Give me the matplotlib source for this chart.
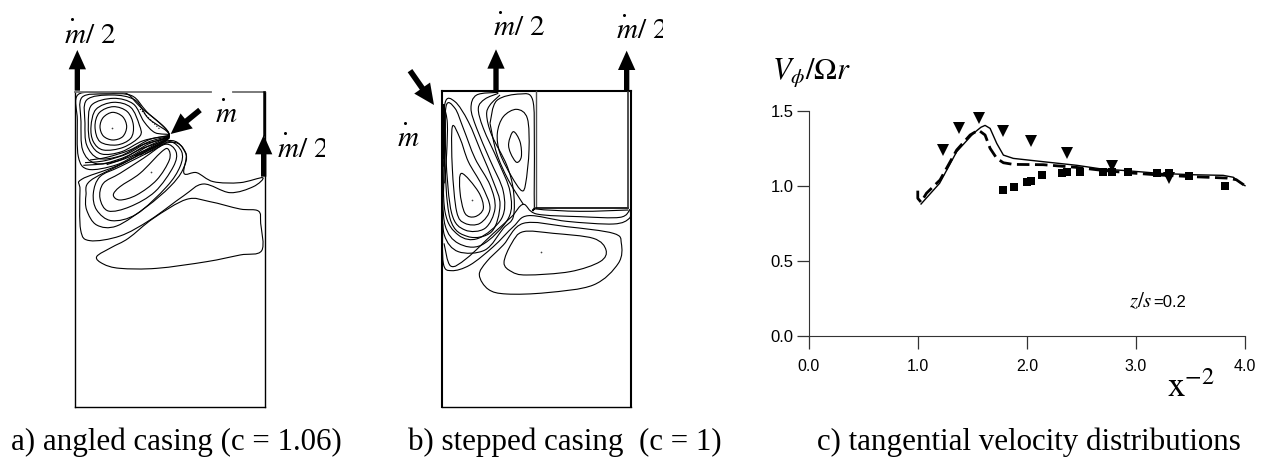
import matplotlib
matplotlib.use("Agg")
import numpy as np
import matplotlib.pyplot as plt
from matplotlib.path import Path
from matplotlib.patches import PathPatch

W, H = 1264, 459

plt.rcParams['font.family'] = ['Liberation Sans', 'DejaVu Sans']
plt.rcParams['mathtext.fontset'] = 'stix'

# panel c values
x_triangles = [1.23, 1.38, 1.56, 1.78, 2.04, 2.37, 2.78, 3.30]
y_triangles = [1.235, 1.385, 1.453, 1.367, 1.298, 1.22, 1.13, 1.05]
x_squares = [1.78, 1.88, 2.0, 2.04, 2.14, 2.32, 2.37, 2.49, 2.70, 2.78, 2.93, 3.19, 3.30, 3.49, 3.82]
y_squares = [0.97, 0.993, 1.027, 1.029, 1.069, 1.082, 1.089, 1.091, 1.089, 1.091, 1.091, 1.082, 1.082, 1.062, 1.0]
x_solid = [1.03, 1.20, 1.357, 1.51, 1.58, 1.617, 1.663, 1.724, 1.785, 1.876, 2.15, 2.457, 2.67, 2.915, 3.22, 3.527, 3.80, 3.894, 3.955, 4.0]
y_solid = [0.878, 1.016, 1.227, 1.349, 1.39, 1.402, 1.382, 1.282, 1.204, 1.182, 1.16, 1.136, 1.113, 1.10, 1.082, 1.073, 1.069, 1.056, 1.02, 1.0]
x_dash = [1.0, 1.0, 1.03, 1.08, 1.204, 1.357, 1.48, 1.556, 1.617, 1.663, 1.724, 1.785, 1.876, 2.15, 2.457, 2.67, 2.915, 3.22, 3.527, 3.83, 3.92, 4.0]
y_dash = [0.967, 0.916, 0.89, 0.95, 1.038, 1.238, 1.338, 1.371, 1.338, 1.249, 1.182, 1.153, 1.142, 1.14, 1.122, 1.104, 1.087, 1.071, 1.06, 1.051, 1.04, 1.0]
x_ticks = [0.0, 1.0, 2.0, 3.0, 4.0]
y_ticks = [0.0, 0.5, 1.0, 1.5]

# panel a streamlines
a_closed = [
    [(180,350),(190,322),(218,307),(248,320),(260,350),(248,380),(218,390),(190,378)],
    [(165,350),(178,308),(220,290),(262,305),(280,345),(272,385),(230,405),(180,395)],
    [(153,350),(168,298),(220,277),(272,292),(298,345),(300,378),(250,412),(190,420),(160,395)],
    [(145,345),(155,285),(220,265),(280,282),(312,335),(345,368),(388,375),(310,392),(245,425),(185,432),(152,400)],
    [(135,340),(140,270),(215,255),(285,270),(325,325),(388,376),(305,405),(240,438),(175,445),(140,405)],
    [(123,335),(126,262),(200,252),(275,257),(320,305),(388,377),(300,418),(235,452),(165,460),(128,420)],
    [(112,330),(114,254),(200,249),(258,250),(300,290),(388,378),(295,430),(228,465),(145,478),(115,440)],
    [(220,555),(240,530),(300,490),(365,425),(385,418),(388,450),(350,510),(290,555),(240,570)],
    [(180,565),(190,520),(240,490),(310,445),(375,403),(408,425),(400,470),(345,545),(270,590),(205,603)],
    [(160,550),(180,500),(240,470),(340,420),(390,395),(425,425),(420,470),(380,530),(290,612),(215,632),(170,600)],
    [(138,555),(150,513),(250,460),(385,392),(437,430),(428,480),(390,530),(320,590),(230,648),(170,645),(140,600)],
    [(120,540),(125,508),(230,468),(385,398),(437,428),(432,490),(470,488),(520,515),(600,518),(668,503),(640,530),
     (570,548),(490,522),(430,558),(330,630),(240,678),(150,692),(122,660)],
    [(170,740),(215,712),(265,685),(340,625),(440,568),(510,575),(600,597),(655,603),(662,640),(665,722),(600,735),
     (500,755),(350,775),(240,775),(190,762)],
]
a_fan = [
    [(388,378),(330,388),(270,420),(200,442),(150,450)],
    [(388,379),(325,396),(265,430),(195,452),(135,458)],
    [(388,380),(325,402),(262,438),(195,460),(130,466)],
    [(388,381),(325,408),(270,440),(200,464)],
    [(388,382),(330,412),(285,438)],
    [(388,383),(335,415),(300,436)],
    [(388,384),(340,417),(315,432)],
]
a_dotted_x = [300, 320, 342, 362]
a_dotted_y = [297, 318, 340, 360]
a_eyes_x = [215, 332]
a_eyes_y = [353, 485]

# panel b streamlines
b_closed = [
    [(245,490),(295,545),(310,595),(285,620),(255,610),(240,545)],
    [(217,350),(240,385),(265,455),(305,525),(330,595),(300,640),(255,640),(230,605),(217,475)],
    [(198,290),(225,295),(250,355),(285,445),(330,525),(345,595),(315,655),(255,660),(215,610),(198,445)],
    [(195,280),(225,275),(265,335),(305,430),(340,515),(360,585),(335,665),(265,680),(210,625),(193,425)],
    [(386,400),(400,365),(420,395),(424,440),(410,457),(392,430)],
    [(352,370),(370,320),(410,298),(442,325),(447,420),(437,520),(425,542),(395,500),(360,430)],
    [(372,758),(395,700),(430,665),(520,670),(640,685),(678,720),(660,755),(570,785),(440,795),(395,785)],
    [(298,795),(320,755),(370,705),(430,640),(560,650),(700,670),(724,700),(715,760),(640,825),(500,848),(380,852),(325,838)],
]
b_open = [
    [(355,247),(290,255),(273,295),(290,355),(330,450),(370,545),(365,625),(295,685),(235,675),(195,605),(189,425)],
    [(355,250),(315,267),(295,295),(310,355),(355,455),(390,545),(385,625),(305,705),(235,700),(195,645),(187,525)],
    [(360,255),(330,285),(320,315),(335,375),(380,465),(400,540),(400,620),(370,655),(315,720),(235,725),(193,675),(187,575)],
    [(330,340),(350,272),(420,252),(458,270),(463,400),(463,585),(469,597),(600,604),(745,600)],
    [(330,340),(350,430),(385,510),(430,583)],
    [(188,640),(190,760),(215,782),(270,765),(340,710),(400,650),(445,617),(560,634),(700,642),(748,625),(750,598)],
    [(750,598),(720,622),(600,620),(470,612),(430,583),(395,620),(340,670),(260,745),(212,768),(192,700)],
]
b_wall = [
    [(190,285),(196,340),(194,440),(190,560)],
    [(193,290),(202,340),(200,430),(194,520)],
    [(188,290),(192,360),(191,470)],
]
b_eyes_x = [275, 484]
b_eyes_y = [570, 726]

# lettering
caption_a = "a) angled casing (c = 1.06)"
caption_b = "b) stepped casing  (c = 1)"
caption_c = "c) tangential velocity distributions"
half_flow = r"$m/\ \mathit{2}$"
full_flow = r"$m$"


def curve(points, closed=False):
    # catmull-rom through the traced points, drawn as cubic path pieces
    pts = [np.array(p, dtype=float) for p in points]
    n = len(pts)
    verts = [pts[0]]
    codes = [Path.MOVETO]
    for i in range(n if closed else n - 1):
        if closed:
            p0, p1, p2, p3 = pts[i - 1], pts[i], pts[(i + 1) % n], pts[(i + 2) % n]
        else:
            p0, p1, p2, p3 = pts[max(i - 1, 0)], pts[i], pts[i + 1], pts[min(i + 2, n - 1)]
        verts += [p1 + (p2 - p0) / 6, p2 - (p3 - p1) / 6, p2]
        codes += [Path.CURVE4] * 3
    return Path(verts, codes)


def add_axes_px(x, y, w, h):
    return fig.add_axes([x / W, 1 - (y + h) / H, w / W, h / H])


def up_arrow(ax, x, y0, y1):
    ax.arrow(x, y0, 0, y1 - y0, width=16, head_width=52, head_length=58,
             length_includes_head=True, color="black", lw=0, zorder=4)


def slant_arrow(ax, x0, y0, x1, y1):
    ax.arrow(x0, y0, x1 - x0, y1 - y0, width=17, head_width=58, head_length=62,
             length_includes_head=True, color="black", lw=0, zorder=4)


def draw_lines(ax, closed, opened):
    for pts in closed:
        ax.add_patch(PathPatch(curve(pts, True), fc="none", ec="black", lw=0.8))
    for pts in opened:
        ax.add_patch(PathPatch(curve(pts), fc="none", ec="black", lw=0.8))


def sketch_axes(ax, x_right):
    ax.set_xlim(0, x_right)
    ax.set_ylim(1200, -30)
    ax.axis("off")


def flow_label(ax, x, y, s):
    ax.text(x, y, s, fontsize=21, clip_on=True)
    ax.plot([x + 23], [y - 70], "o", color="black", ms=2.2, mew=0)


fig = plt.figure(figsize=(W / 100, H / 100), dpi=100, facecolor="white")

# a) angled casing, axes units are 1/3 pixel
ax_a = add_axes_px(40, 0, 285, 410)
sketch_axes(ax_a, 855)
ax_a.plot([105, 105], [245, 1191], color="black", lw=1.0)
ax_a.plot([675, 675], [245, 1191], color="black", lw=1.0)
ax_a.plot([105, 675], [1191, 1191], color="black", lw=1.0)
ax_a.plot([105, 512], [245, 245], color="#707070", lw=1.3)
ax_a.plot([578, 675], [245, 245], color="#707070", lw=1.3)
ax_a.plot([673, 673], [245, 375], color="black", lw=1.8)
draw_lines(ax_a, a_closed, a_fan)
ax_a.plot(a_dotted_x, a_dotted_y, color="black", lw=0.8, ls=":")
ax_a.scatter(a_eyes_x, a_eyes_y, s=1.5, color="#444444", lw=0)
up_arrow(ax_a, 112, 242, 120)
up_arrow(ax_a, 671, 500, 375)
slant_arrow(ax_a, 480, 300, 392, 372)
flow_label(ax_a, 72, 98, half_flow)
flow_label(ax_a, 525, 337, full_flow)
flow_label(ax_a, 712, 440, half_flow)

# b) stepped casing
ax_b = add_axes_px(380, 0, 283, 410)
sketch_axes(ax_b, 849)
ax_b.plot([186, 186], [243, 1191], color="black", lw=1.5)
ax_b.plot([752, 752], [243, 1191], color="black", lw=1.5)
ax_b.plot([186, 752], [1191, 1191], color="black", lw=1.0)
ax_b.plot([186, 752], [243, 243], color="black", lw=1.5)
ax_b.plot([469, 469], [243, 593], color="#505050", lw=1.0)
ax_b.plot([469, 743], [593, 593], color="black", lw=1.2)
ax_b.plot([743, 743], [243, 593], color="#303030", lw=1.2)
draw_lines(ax_b, b_closed, b_open + b_wall)
ax_b.plot([190, 190], [285, 440], color="black", lw=2.2)
ax_b.scatter(b_eyes_x, b_eyes_y, s=1.5, color="#444444", lw=0)
up_arrow(ax_b, 348, 243, 118)
up_arrow(ax_b, 740, 243, 122)
slant_arrow(ax_b, 90, 182, 162, 285)
flow_label(ax_b, 338, 75, half_flow)
flow_label(ax_b, 708, 85, half_flow)
flow_label(ax_b, 52, 408, full_flow)

# c) velocity profile
ax_c = add_axes_px(808.7, 110.7, 436.3, 225)
ax_c.plot(x_solid, y_solid, color="black", lw=1.0, clip_on=False)
ax_c.plot(x_dash, y_dash, color="black", lw=2.0, ls=(0, (4.5, 2)), clip_on=False)
ax_c.plot(x_triangles, y_triangles, "v", color="black", ms=8.2, mew=0, clip_on=False)
ax_c.plot(x_squares, y_squares, "s", color="black", ms=6.4, mew=0, clip_on=False)
ax_c.set_xlim(0, 4)
ax_c.set_ylim(0, 1.5)
ax_c.set_xticks(x_ticks)
ax_c.set_yticks(y_ticks)
ax_c.set_xticklabels([f"{v:.1f}" for v in x_ticks], fontsize=11.5)
ax_c.set_yticklabels([f"{v:.1f}" for v in y_ticks], fontsize=12)
ax_c.spines["top"].set_visible(False)
ax_c.spines["right"].set_visible(False)
ax_c.spines["left"].set_color("#333333")
ax_c.spines["bottom"].set_color("#333333")
ax_c.tick_params(axis="x", length=9, width=0.9, color="#333333", pad=8)
ax_c.tick_params(axis="y", length=9, width=0.9, color="#333333", pad=2)
ax_c.text(3.156, 0.191, r"$z/s$", fontsize=15, ha="right", va="baseline")
ax_c.text(3.156, 0.191, "=0.2", fontsize=12, ha="left", va="baseline")


def fig_text(x, y, s, **kw):
    fig.text(x / W, 1 - y / H, s, va="baseline", **kw)


fig_text(772, 79, r"$V_{\phi}/\Omega r$", fontsize=22)
fig_text(1167, 397, r"$\mathrm{x}^{-2}$", fontsize=25)

serif = ['Liberation Serif', 'DejaVu Serif']
fig_text(11, 450, caption_a, fontsize=22.3, family=serif)
fig_text(408, 450, caption_b, fontsize=22.3, family=serif)
fig_text(817, 450, caption_c, fontsize=22.3, family=serif)

fig.savefig("out.png", dpi=100)
